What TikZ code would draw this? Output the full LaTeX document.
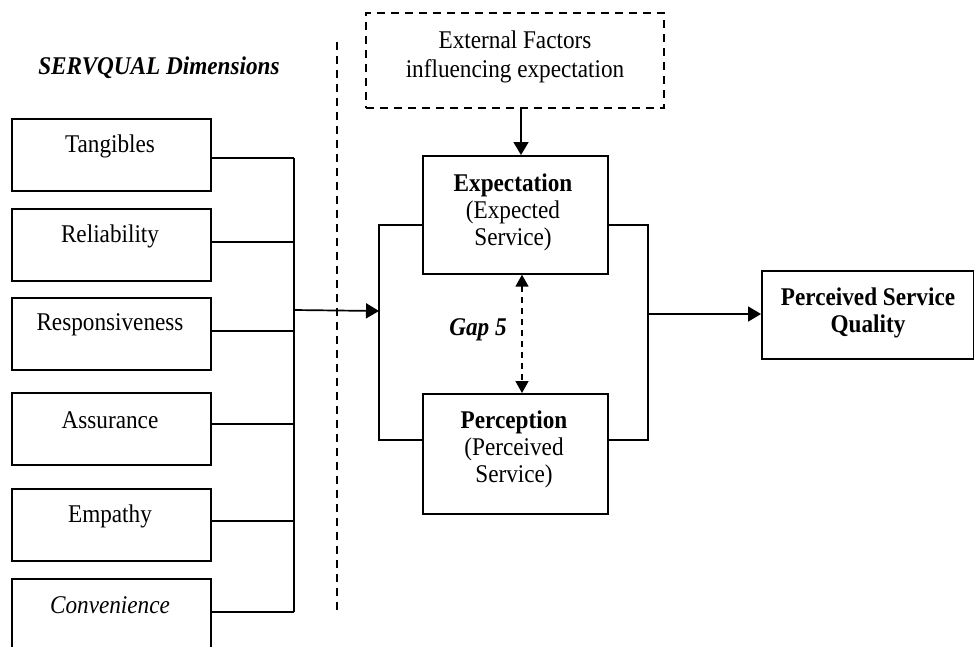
\documentclass[tikz,border=0pt]{standalone}
\usepackage{fontspec}
\setmainfont{Liberation Serif}[FakeStretch=0.91]
\usetikzlibrary{arrows.meta}
\begin{document}
\begin{tikzpicture}[x=1pt,y=-1pt,line width=1.7pt,
  font=\fontsize{25.5}{27}\selectfont,
  dimbox/.style={draw,inner sep=0pt,minimum width=199pt,minimum height=72pt,anchor=north west},
  mainbox/.style={draw,inner sep=0pt,anchor=north west},
  txt/.style={inner sep=0pt,align=center},
  arr/.style={-{Triangle[length=13pt,width=15pt]}},
  dblarr/.style={{Triangle[length=12pt,width=13pt]}-{Triangle[length=12pt,width=13pt]}},
  dashline/.style={dash pattern=on 8pt off 6pt}]
\clip (0,0) rectangle (974,646);
\fill[white] (0,0) rectangle (974,646);

% title
\node[txt] (title) at (159,68) {\textbf{\textit{SERVQUAL Dimensions}}};

% dimension boxes
\node[dimbox] (tang) at (11,118) {};
\node[dimbox] (reli) at (11,208) {};
\node[dimbox] (resp) at (11,297) {};
\node[dimbox] (assu) at (11,392) {};
\node[dimbox] (empa) at (11,488) {};
\node[dimbox] (conv) at (11,578) {};
\node[txt] (tangt) at (110,146) {Tangibles};
\node[txt] (relit) at (110,236) {Reliability};
\node[txt] (respt) at (110,325) {Responsiveness};
\node[txt] (assut) at (110,420) {Assurance};
\node[txt] (empat) at (110,516) {Empathy};
\node[txt] (convt) at (110,605) {\textit{Convenience}};

% bus
\coordinate (b1) at (294,158);
\coordinate (b2) at (294,242);
\coordinate (b3) at (294,331);
\coordinate (b4) at (294,424);
\coordinate (b5) at (294,521);
\coordinate (b6) at (294,612);
\draw (tang.east |- b1) -- (b1);
\draw (reli.east |- b2) -- (b2);
\draw (resp.east |- b3) -- (b3);
\draw (assu.east |- b4) -- (b4);
\draw (empa.east |- b5) -- (b5);
\draw (conv.east |- b6) -- (b6);
\draw (b1) -- (b6);

% dashed separator
\coordinate (s1) at (337,42);
\coordinate (s2) at (337,612);
\draw[dashline] (s1) -- (s2);

% external factors
\node[mainbox,dashline,minimum width=298pt,minimum height=95pt] (ext) at (365,12) {};
\node[txt,font=\fontsize{25.5}{29}\selectfont] (extt) at (515,57) {External Factors\\influencing expectation};

% expectation / perception
\node[mainbox,minimum width=185pt,minimum height=118pt] (exp) at (422,155) {};
\node[txt] (expt) at (513,212) {\textbf{Expectation}\\(Expected\\Service)};
\node[mainbox,minimum width=185pt,minimum height=120pt] (per) at (422,393) {};
\node[txt] (pert) at (514,449) {\textbf{Perception}\\(Perceived\\Service)};

% perceived service quality
\node[mainbox,minimum width=212pt,minimum height=88pt] (psq) at (761,270) {};
\node[txt] (psqt) at (868,313) {\textbf{Perceived Service}\\\textbf{Quality}};

% arrow external -> expectation
\coordinate (ea) at (521,107);
\draw[arr] (ea) -- (exp.north -| ea);

% gap 5
\coordinate (g) at (522,300);
\draw[dblarr,dash pattern=on 6pt off 5pt] (exp.south -| g) -- (per.north -| g);
\node[txt] (gapt) at (478,330) {\textbf{\textit{Gap 5}}};

% loops
\coordinate (lt) at (379,225);
\coordinate (lb) at (379,440);
\coordinate (lm) at (379,311);
\coordinate (bm) at (294,310);
\draw (exp.west |- lt) -- (lt) -- (lb) -- (per.west |- lb);
\draw[arr] (bm) -- (lm);

\coordinate (rt) at (648,225);
\coordinate (rb) at (648,440);
\coordinate (rm) at (648,314);
\draw (exp.east |- rt) -- (rt) -- (rb) -- (per.east |- rb);
\draw[arr] (rm) -- (psq.west |- rm);
\end{tikzpicture}
\end{document}
